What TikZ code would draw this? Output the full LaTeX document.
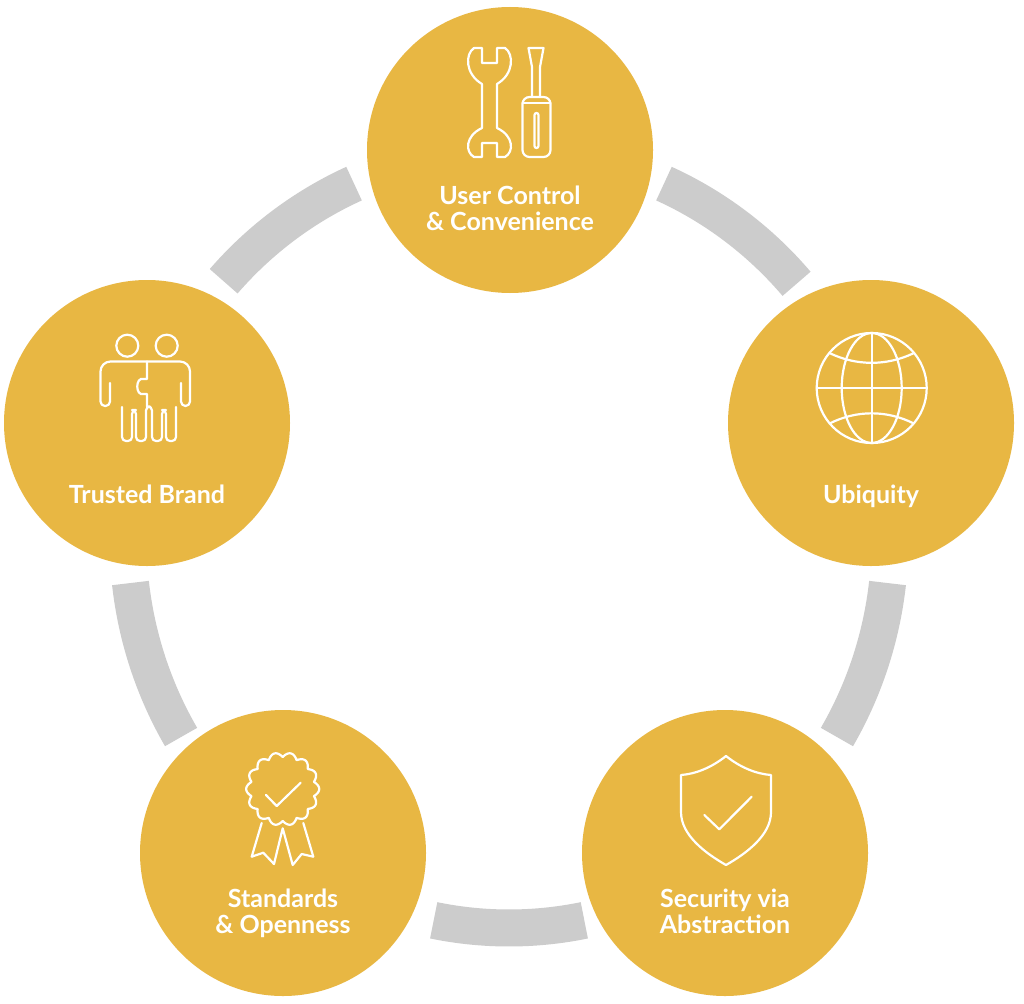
\documentclass[tikz,border=0pt]{standalone}
\usepackage{fontspec}
\setmainfont{Lato}
\definecolor{gold}{HTML}{E8B743}
\definecolor{ringgray}{HTML}{CCCCCC}
\tikzset{
  disc/.style={circle,fill=gold,minimum size=286pt,inner sep=0pt},
  lbl/.style={text=white,font=\fontsize{25}{26}\selectfont\bfseries,align=center,inner sep=0pt,anchor=base},
  ring/.style={draw=ringgray,line width=37pt},
  icon/.style={draw=white,line width=2.2pt,line join=round,line cap=round}
}
\newcommand\badge[4]{\node(#1)[disc] at (#2,#3) {};
  \node(#1t)[lbl] at (#2,#3+80) {#4};}

\begin{document}
\begin{tikzpicture}[x=1pt,y=-1pt]
    \fill[white] (0,0) rectangle (1024,1003);
    % ring pieces between the discs
    \foreach \a/\b in {-66/-41, 6.5/30.6, 78.6/101.4, 149.4/173.5, 221.5/246}
        \draw[ring] (509,539) ++(\a:381 and 389) arc[start angle=\a,end angle=\b,x radius=381,y radius=389];
    % discs
    \badge{uc}{510}{150}{User Control\\\& Convenience}
    \badge{ubq}{871}{423}{Ubiquity}
    \badge{sec}{725}{853}{Security via\\Abstraction}
    \badge{std}{283}{853}{Standards\\\& Openness}
    \badge{tb}{147}{423}{Trusted Brand}
    % wrench and screwdriver
    \draw[icon] (482,48) -- (482,63) -- (497,63) -- (497,48) -- (505,48)
        .. controls (514,54) and (514,74) .. (497,84) -- (497,128)
        .. controls (514,136) and (514,152) .. (505,157) -- (497,157) -- (497,143) -- (482,143) -- (482,157) -- (474,157)
        .. controls (465,152) and (465,136) .. (482,128) -- (482,84)
        .. controls (465,74) and (465,54) .. (474,48) -- cycle;
    \draw[icon] (532,97) -- (532,67) -- (528.5,48) -- (543.5,48) -- (540,67) -- (540,97);
    \draw[icon,rounded corners=7pt] (522.5,97) rectangle (550.5,157);
    \draw[icon] (522.5,103) -- (550.5,103);
    \draw[icon,rounded corners=2pt] (534.5,113) rectangle (538.5,148);
    % globe
    \draw[icon] (871.7,388) circle (55);
    \draw[icon] (871.7,388) ellipse (30 and 55);
    \draw[icon] (871.7,333) -- (871.7,443) (816.7,388) -- (926.7,388);
    \draw[icon] (830,353.3) .. controls (856.7,366) and (886.7,366) .. (913.4,353.3);
    \draw[icon] (830,423.3) .. controls (856.7,410) and (886.7,410) .. (913.4,423.3);
    % shield
    \draw[icon] (726,756) .. controls (711,768) and (695,774) .. (681,775) -- (681,812)
        .. controls (681,835) and (705,853) .. (726,865) .. controls (747,853) and (771,835) .. (771,812)
        -- (771,775) .. controls (757,774) and (741,768) .. (726,756) -- cycle;
    \draw[icon] (704.3,815) -- (719.3,829.3) -- (751.7,796.7);
    % rosette
    \draw[icon] plot[domain=0:360,samples=281,smooth] ({282.7+(32+4.5*abs(cos(7*\x)))*cos(\x)},{789+(32+4.5*abs(cos(7*\x)))*sin(\x)});
    \draw[icon] (266,795) -- (276.7,806) -- (300.7,782.7);
    \draw[icon] (261.7,823) -- (251.7,856.7) -- (263.3,852.7) -- (274,864) -- (282.7,828.3)
        -- (292.7,865) -- (301.7,854) -- (313.3,856.7) -- (303.3,823);
    % two people
    \draw[icon] (127.3,345.7) circle (11) (166.7,345.7) circle (11);
    \draw[icon,rounded corners=4.5pt] (110,383) -- (110,406) -- (100.5,406) [rounded corners=10pt] -- (100.5,361.5)
        -- (190,361.5) [rounded corners=4.5pt] -- (190,406) -- (181,406) -- (181,383);
    \draw[icon,rounded corners=4pt] (122,407) -- (122,441) -- (132,441) -- (132,410) -- (136,410) -- (136,441)
        -- (146,441) -- (146,406.5) -- (152,406.5) -- (152,441) -- (162,441) -- (162,410) -- (166,410) -- (166,441)
        -- (176,441) -- (176,407);
    \draw[icon] (147,361.5) -- (147,379) -- (144,379) .. controls (135,376) and (135,397) .. (144,394) -- (147,394) -- (147,406.5);
\end{tikzpicture}
\end{document}
